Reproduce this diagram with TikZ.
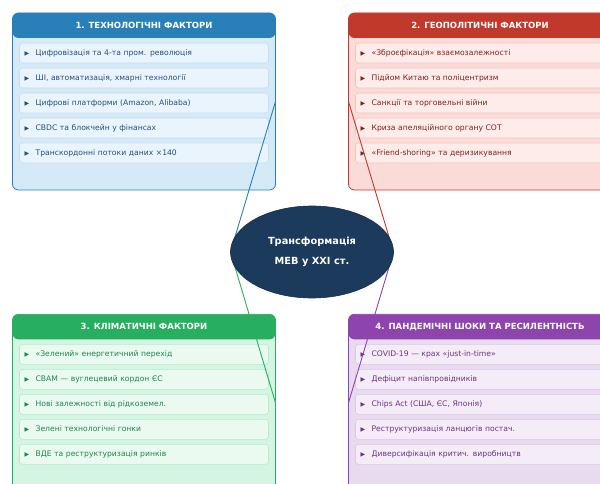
\documentclass[tikz,border=0pt]{standalone}
\usepackage{fontspec}
\setmainfont{DejaVu Sans}
\usetikzlibrary{positioning,shapes.geometric}

\definecolor{techmain}{HTML}{2980B9}
\definecolor{techbody}{HTML}{D6E9F7}
\definecolor{techitem}{HTML}{EAF4FC}
\definecolor{techedge}{HTML}{C4DDF1}
\definecolor{techtext}{HTML}{24507A}
\definecolor{geomain}{HTML}{C0392B}
\definecolor{geobody}{HTML}{FADBD8}
\definecolor{geoitem}{HTML}{FDECEA}
\definecolor{geoedge}{HTML}{F5C3BD}
\definecolor{geotext}{HTML}{7B241C}
\definecolor{climmain}{HTML}{27AE60}
\definecolor{climbody}{HTML}{D5F5E3}
\definecolor{climitem}{HTML}{EAFAF1}
\definecolor{climedge}{HTML}{B7EBCB}
\definecolor{climtext}{HTML}{1E8449}
\definecolor{pandmain}{HTML}{8E44AD}
\definecolor{pandbody}{HTML}{E8DAEF}
\definecolor{panditem}{HTML}{F4ECF7}
\definecolor{pandedge}{HTML}{DCC8E6}
\definecolor{pandtext}{HTML}{6C3483}
\definecolor{hubfill}{HTML}{1B3A5C}

\pgfdeclarelayer{front}
\pgfsetlayers{main,front}

\newcommand{\tri}{{\fontsize{6}{6}\selectfont ▶}\hspace{6.5pt}}

\begin{document}
\begin{tikzpicture}[x=1pt,y=-1pt,inner sep=0pt,outer sep=0pt,
panel/.style={draw=#1main,fill=#1body,line width=0.8pt,rounded corners=6pt,
  minimum width=263pt,minimum height=177pt,
  path picture={\fill[#1main] (path picture bounding box.north west) rectangle ([yshift=-25pt]path picture bounding box.north east);}},
panelhead/.style={anchor=north,text=white,minimum width=263pt,minimum height=25pt,
  font=\bfseries\fontsize{8.5}{10}\selectfont},
factor/.style={draw=#1edge,fill=#1item,text=#1text,line width=0.6pt,rounded corners=3pt,
  minimum height=20pt,text width=239pt,inner xsep=5pt,align=left,
  font=\fontsize{7.65}{9}\selectfont},
link/.style={draw=#1main,line width=0.9pt},
hub/.style={ellipse,draw=hubfill!80!black,fill=hubfill,line width=0.6pt,text=white,
  minimum width=163pt,minimum height=92pt,align=center,
  font=\bfseries\fontsize{9.8}{20}\selectfont}]

\useasboundingbox (0,0) rectangle (600,484);
\clip (0,0) rectangle (600,484);

\draw (144,101.5) node[panel=tech] (p1) {};
\draw (480,101.5) node[panel=geo] (p2) {};
\draw (144,402.8) node[panel=clim] (p3) {};
\draw (480,402.8) node[panel=pand] (p4) {};

\node[panelhead] (h1) at (p1.north) {1. ТЕХНОЛОГІЧНІ ФАКТОРИ};
\node[panelhead] (h2) at (p2.north) {2. ГЕОПОЛІТИЧНІ ФАКТОРИ};
\node[panelhead] (h3) at (p3.north) {3. КЛІМАТИЧНІ ФАКТОРИ};
\node[panelhead] (h4) at (p4.north) {4. ПАНДЕМІЧНІ ШОКИ ТА РЕСИЛЕНТНІСТЬ};

\node[factor=tech,below=5pt of h1] (t1) {\tri Цифровізація та 4-та пром. революція};
\node[factor=tech,below=5pt of t1] (t2) {\tri ШІ, автоматизація, хмарні технології};
\node[factor=tech,below=5pt of t2] (t3) {\tri Цифрові платформи (Amazon, Alibaba)};
\node[factor=tech,below=5pt of t3] (t4) {\tri CBDC та блокчейн у фінансах};
\node[factor=tech,below=5pt of t4] (t5) {\tri Транскордонні потоки даних ×140};

\node[factor=geo,below=5pt of h2] (g1) {\tri «Зброєфікація» взаємозалежності};
\node[factor=geo,below=5pt of g1] (g2) {\tri Підйом Китаю та поліцентризм};
\node[factor=geo,below=5pt of g2] (g3) {\tri Санкції та торговельні війни};
\node[factor=geo,below=5pt of g3] (g4) {\tri Криза апеляційного органу СОТ};
\node[factor=geo,below=5pt of g4] (g5) {\tri «Friend-shoring» та деризикування};

\node[factor=clim,below=5pt of h3] (c1) {\tri «Зелений» енергетичний перехід};
\node[factor=clim,below=5pt of c1] (c2) {\tri CBAM — вуглецевий кордон ЄС};
\node[factor=clim,below=5pt of c2] (c3) {\tri Нові залежності від рідкоземел.};
\node[factor=clim,below=5pt of c3] (c4) {\tri Зелені технологічні гонки};
\node[factor=clim,below=5pt of c4] (c5) {\tri ВДЕ та реструктуризація ринків};

\node[factor=pand,below=5pt of h4] (d1) {\tri COVID-19 — крах «just-in-time»};
\node[factor=pand,below=5pt of d1] (d2) {\tri Дефіцит напівпровідників};
\node[factor=pand,below=5pt of d2] (d3) {\tri Chips Act (США, ЄС, Японія)};
\node[factor=pand,below=5pt of d3] (d4) {\tri Реструктуризація ланцюгів постач.};
\node[factor=pand,below=5pt of d4] (d5) {\tri Диверсифікація критич. виробництв};

\begin{pgfonlayer}{front}
\draw (312,252) node[hub] (core) {Трансформація\\МЕВ у XXI ст.};
\end{pgfonlayer}

\draw[link=tech] (p1.east) -- (core.west);
\draw[link=geo] (p2.west) -- (core.east);
\draw[link=clim] (p3.east) -- (core.west);
\draw[link=pand] (p4.west) -- (core.east);
\end{tikzpicture}
\end{document}
